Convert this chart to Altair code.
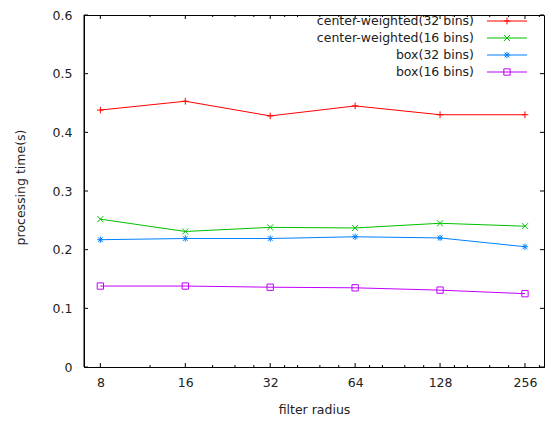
import altair as alt
import pandas as pd

radius = [8, 16, 32, 64, 128, 256]
series_names = ["center-weighted(32 bins)", "center-weighted(16 bins)", "box(32 bins)", "box(16 bins)"]
cw32 = [0.438, 0.453, 0.428, 0.445, 0.430, 0.430]
cw16 = [0.252, 0.231, 0.238, 0.237, 0.245, 0.240]
box32 = [0.217, 0.219, 0.219, 0.222, 0.220, 0.205]
box16 = [0.138, 0.138, 0.136, 0.135, 0.131, 0.125]
colors = ["#ff0000", "#00c000", "#0080ff", "#c000ff"]
shapes = [
    "M-1,0L1,0M0,-1L0,1",
    "M-1,-1L1,1M-1,1L1,-1",
    "M-1,0L1,0M0,-1L0,1M-0.75,-0.75L0.75,0.75M-0.75,0.75L0.75,-0.75",
    "M-1,-1L1,-1L1,1L-1,1Z",
]
sizes = [45, 36, 40, 40]
x_ticks = [8, 16, 32, 64, 128, 256]
x_minor = [12, 20, 24, 28, 36, 40, 48, 56, 72, 80, 96, 112, 144, 160, 192, 224, 288]
y_ticks = [0, 0.1, 0.2, 0.3, 0.4, 0.5, 0.6]

W, H = 460, 352
FONT = "DejaVu Sans"
FS = 12.5
TXT = "#222222"

rows = []
for name, vals in zip(series_names, [cw32, cw16, box32, box16]):
    for r, v in zip(radius, vals):
        rows.append({"series": name, "radius": r, "value": v})
df = pd.DataFrame(rows)

xscale = alt.Scale(type="log", base=2, domain=[7, 299])
yscale = alt.Scale(domain=[0, 0.6])
cscale = alt.Scale(domain=series_names, range=colors)

common_axis = dict(
    ticks=False, grid=False, domain=True, domainColor="#000000", domainWidth=1,
    labelFont=FONT, labelFontSize=FS, labelColor=TXT,
    titleFont=FONT, titleFontSize=FS, titleColor=TXT, titleFontWeight="normal",
)
xaxis = alt.Axis(values=x_ticks, format="d", title="filter radius",
                 labelPadding=9, labelBaseline="top",
                 titleY=46, titleBaseline="alphabetic", **common_axis)
yaxis = alt.Axis(values=y_ticks, format=".1~f", title="processing time(s)",
                 labelPadding=12,
                 titleAngle=270, titleX=-60, titleY=172, titleBaseline="alphabetic",
                 **common_axis)

def X(field):
    return alt.X(field, scale=xscale, axis=xaxis, title="filter radius")

def Y(field):
    return alt.Y(field, scale=yscale, axis=yaxis, title="processing time(s)")

layers = []

lines = alt.Chart(df).mark_line(strokeWidth=1, clip=True).encode(
    x=X("radius:Q"),
    y=Y("value:Q"),
    color=alt.Color("series:N", scale=cscale, legend=None),
    detail="series:N",
)
layers.append(lines)

for name, col, shp, sz in zip(series_names, colors, shapes, sizes):
    pts = alt.Chart(df[df.series == name]).mark_point(
        shape=shp, filled=False, strokeWidth=1, size=sz, color=col, opacity=1
    ).encode(x=X("radius:Q"), y=Y("value:Q"))
    layers.append(pts)

# frame left edge (explicit)
frame = pd.DataFrame({"k": [0]})
layers.append(alt.Chart(frame).mark_rule(color="#000000", strokeWidth=1).encode(
    x=alt.value(0), y=alt.value(0), y2=alt.value(H)))

# ticks (inward, mirrored)
ydf = pd.DataFrame({"v": y_ticks})
xdf = pd.DataFrame({"r": x_ticks})
xmdf = pd.DataFrame({"r": x_minor})
tick_color = "#000000"
layers.append(alt.Chart(ydf).mark_rule(color=tick_color, strokeWidth=1).encode(
    y=Y("v:Q"), x=alt.value(0), x2=alt.value(4)))
layers.append(alt.Chart(ydf).mark_rule(color=tick_color, strokeWidth=1).encode(
    y=Y("v:Q"), x=alt.value(W - 4), x2=alt.value(W)))
layers.append(alt.Chart(xdf).mark_rule(color=tick_color, strokeWidth=1).encode(
    x=X("r:Q"), y=alt.value(H), y2=alt.value(H - 4)))
layers.append(alt.Chart(xdf).mark_rule(color=tick_color, strokeWidth=1).encode(
    x=X("r:Q"), y=alt.value(0), y2=alt.value(4)))
layers.append(alt.Chart(xmdf).mark_rule(color=tick_color, strokeWidth=1).encode(
    x=X("r:Q"), y=alt.value(H), y2=alt.value(H - 2)))
layers.append(alt.Chart(xmdf).mark_rule(color=tick_color, strokeWidth=1).encode(
    x=X("r:Q"), y=alt.value(0), y2=alt.value(2)))

# legend (top-right, text left of sample)
row_y = [6, 23, 40, 57]
for name, col, shp, sz, ry in zip(series_names, colors, shapes, sizes, row_y):
    ldf = pd.DataFrame({"label": [name]})
    base = alt.Chart(ldf)
    layers.append(base.mark_text(align="right", baseline="middle", font=FONT, fontSize=FS, color=TXT).encode(
        text="label:N", x=alt.value(390), y=alt.value(ry)))
    layers.append(base.mark_rule(color=col, strokeWidth=1).encode(
        x=alt.value(403), x2=alt.value(443), y=alt.value(ry)))
    layers.append(base.mark_point(shape=shp, filled=False, strokeWidth=1, size=sz, color=col, opacity=1).encode(
        x=alt.value(423), y=alt.value(ry)))

chart = alt.layer(*layers).properties(
    width=W, height=H,
    background="white",
    autosize=alt.AutoSizeParams(type="none"),
    padding={"left": 76, "top": 7, "right": 8, "bottom": 50},
).configure_view(
    stroke="#000000", strokeWidth=1
)

chart.save("out.html", embed_options={"renderer": "svg", "actions": False})
